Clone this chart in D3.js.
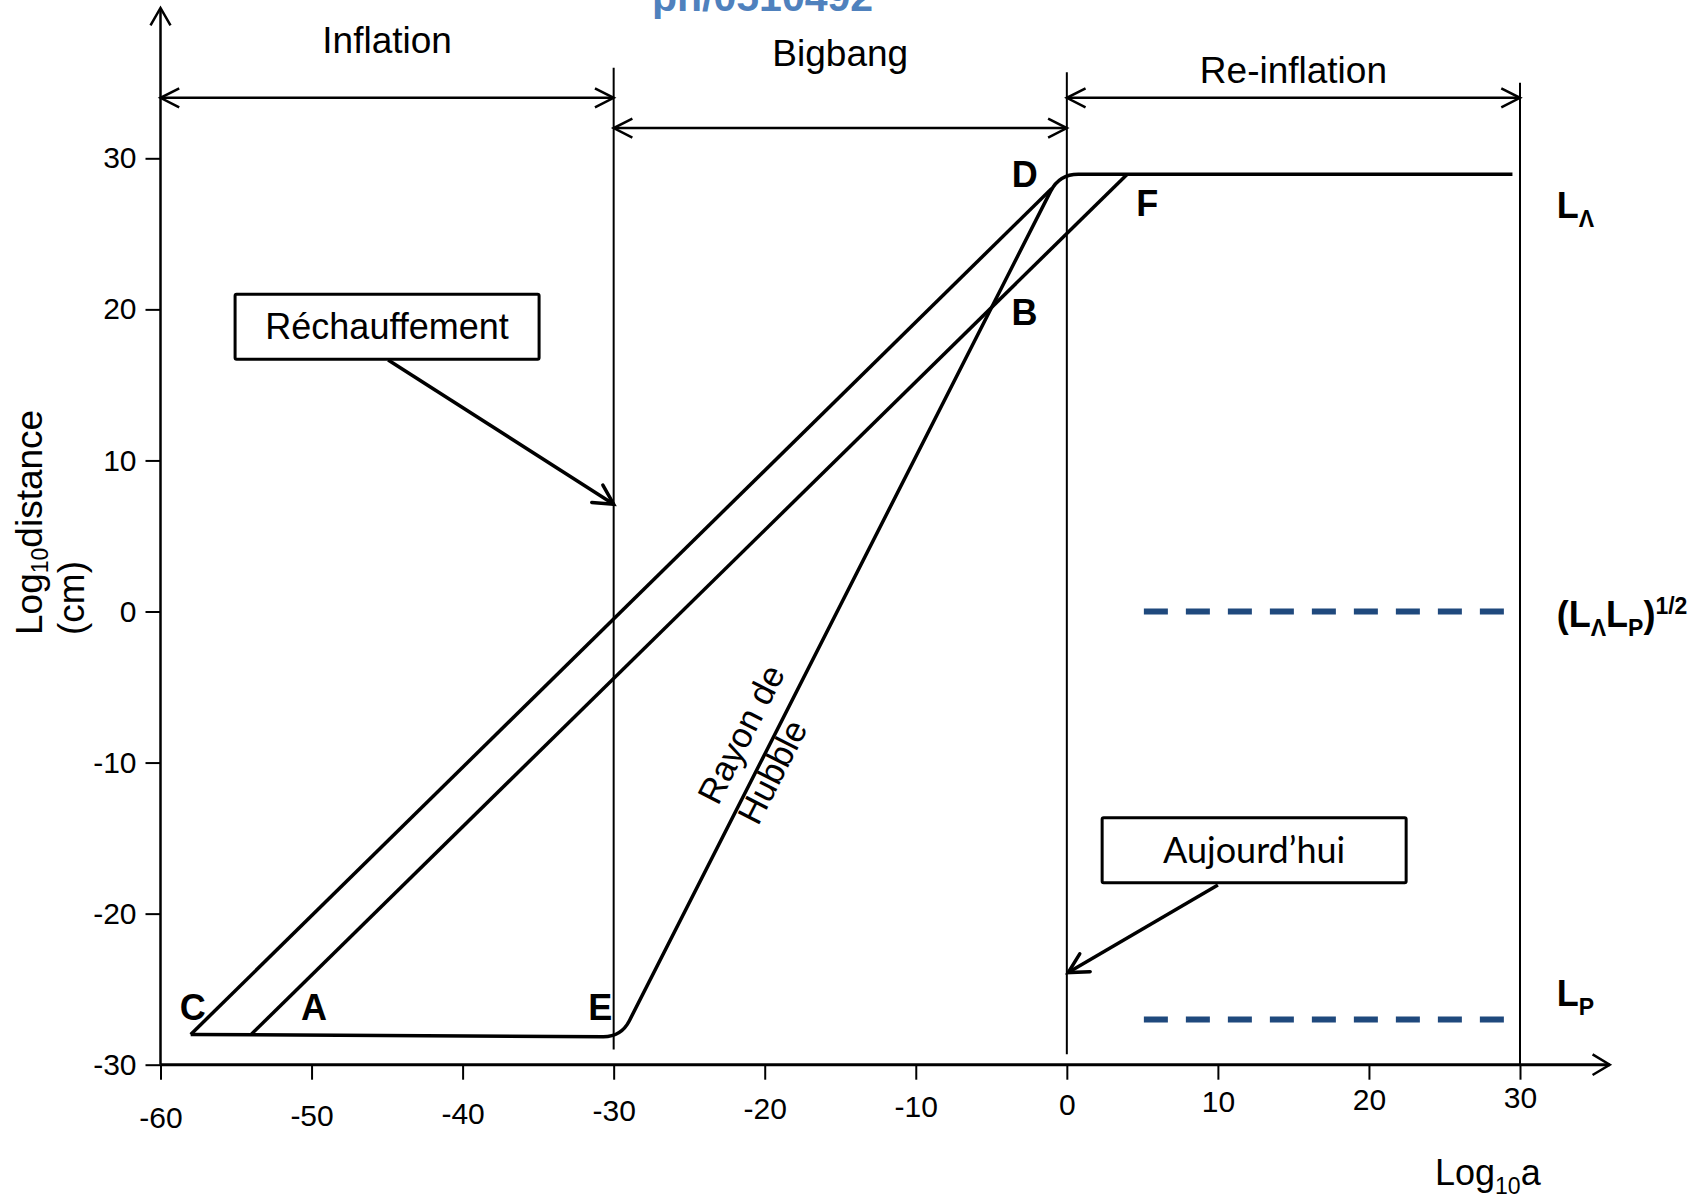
<!DOCTYPE html>
<html>
<head>
<meta charset="utf-8">
<script src="https://cdn.jsdelivr.net/npm/d3@7/dist/d3.min.js"></script>
<style>
  html, body { margin:0; padding:0; background:#ffffff; }
  svg { display:block; }
  text { font-family:"Liberation Sans", Arial, Helvetica, sans-serif; fill:#000; }
</style>
</head>
<body>
<script>
// ---------------- data ----------------
const xTicks = [-60, -50, -40, -30, -20, -10, 0, 10, 20, 30];
const yTicks = [-30, -20, -10, 0, 10, 20, 30];

const lineCD = [[-58, -28], [-1, 28]];
const lineAF = [[-54, -28], [4, 28.95]];
const hubblePath = [[-58, -28], [-29.5, -28.15], [-0.5, 28.95], [29.5, 28.95]];

const dashedLevels = [0, -27];
const dashedRange = [5.1, 29.0];

const boundaryX = [-30, 0, 30];
const boundaryTop = [36.0, 35.7, 35.0];
const boundaryBottom = [-29.0, -29.3, -30.0];

const phaseNames = ["Inflation", "Bigbang", "Re-inflation"];
const phaseFrom = [-60, -30, 0];
const phaseTo = [-30, 0, 30];
const phaseArrowY = [34.0, 32.0, 34.0];
const phaseLabelY = [37.0, 36.1, 35.0];

const pointNames = ["C", "A", "E", "D", "B", "F"];
const pointX = [-57.86, -49.83, -30.89, -2.78, -2.81, 5.33];
const pointY = [-27.04, -27.04, -27.04, 28.1, 18.97, 26.18];

const levelLabelParts = [
  [["L", "n"], ["Λ", "sub"]],
  [["(L", "n"], ["Λ", "sub"], ["L", "n"], ["P", "sub"], [")", "n"], ["1/2", "sup"]],
  [["L", "n"], ["P", "sub"]]
];
const levelLabelX = [32.43, 32.43, 32.43];
const levelLabelY = [26.05, -1.03, -26.1];

const annotTexts = ["Réchauffement", "Aujourd’hui"];
const annotCenter = [[-45.0, 18.85], [12.4, -15.8]];
const annotFrom = [[-44.93, 16.65], [10.0, -18.1]];
const annotTo = [[-30, 7.1], [0.09, -23.9]];

const hubbleTextLines = ["Rayon de", "Hubble"];
const hubbleTextAt = [-23.1, -12.9];

const titleText = "ph/0510492";

// ---------------- layout / scales ----------------
const W = 1700, H = 1198;
const x = d3.scaleLinear().domain([-60, 30]).range([160.5, 1520]);
const y = d3.scaleLinear().domain([-30, 30]).range([1064.7, 158.3]);

const svg = d3.select("body").append("svg").attr("width", W).attr("height", H);
svg.append("rect").attr("width", W).attr("height", H).attr("fill", "#fff");

function openHead(tip, from, len, halfDeg) {
  const dx = from[0] - tip[0], dy = from[1] - tip[1];
  const L = Math.hypot(dx, dy), ux = dx / L, uy = dy / L;
  const a = halfDeg * Math.PI / 180;
  const r = (c, s) => [tip[0] + len * (ux * c - uy * s), tip[1] + len * (ux * s + uy * c)];
  const p1 = r(Math.cos(a), Math.sin(a)), p2 = r(Math.cos(-a), Math.sin(-a));
  return `M${p1[0]},${p1[1]}L${tip[0]},${tip[1]}L${p2[0]},${p2[1]}`;
}

// title (cut off at the top edge, as in the source figure)
svg.append("text").attr("x", 652).attr("y", 11)
  .attr("font-size", 41).attr("font-weight", "bold").style("fill", "#4F81BD")
  .text(titleText);

// ---------------- axes ----------------
const fmt = d => String(d);
const gx = svg.append("g").attr("transform", `translate(0,${y(-30)})`)
  .call(d3.axisBottom(x).tickValues(xTicks).tickSize(15).tickSizeOuter(0).tickPadding(17)
    .tickFormat(fmt));
gx.select(".domain").remove();
gx.selectAll(".tick line").attr("stroke", "#000").attr("stroke-width", 2);
gx.selectAll(".tick text").attr("font-size", 30).attr("font-family", "Liberation Sans, Arial").style("fill", "#000")
  .attr("transform", d => `translate(0,${-0.23 * (d + 15)})`);

const gy = svg.append("g").attr("transform", `translate(${x(-60)},0)`)
  .call(d3.axisLeft(y).tickValues(yTicks).tickSize(15).tickSizeOuter(0).tickPadding(9)
    .tickFormat(fmt));
gy.select(".domain").remove();
gy.selectAll(".tick line").attr("stroke", "#000").attr("stroke-width", 2);
gy.selectAll(".tick text").attr("font-size", 30).attr("font-family", "Liberation Sans, Arial").style("fill", "#000");

// axis lines with arrows
const xTip = [x(35.94), y(-30)];
svg.append("line").attr("x1", x(-60)).attr("y1", y(-30)).attr("x2", xTip[0]).attr("y2", xTip[1])
  .attr("stroke", "#000").attr("stroke-width", 3);
svg.append("path").attr("d", openHead(xTip, [x(-60), y(-30)], 20, 31))
  .attr("fill", "none").attr("stroke", "#000").attr("stroke-width", 2.5);
const yTip = [x(-60), y(39.95)];
svg.append("line").attr("x1", x(-60)).attr("y1", y(-30)).attr("x2", yTip[0]).attr("y2", yTip[1])
  .attr("stroke", "#000").attr("stroke-width", 2.5);
svg.append("path").attr("d", openHead(yTip, [x(-60), y(-30)], 20, 30))
  .attr("fill", "none").attr("stroke", "#000").attr("stroke-width", 2.5);

// axis titles
const ylab = svg.append("text").attr("transform", `translate(42,635) rotate(-90)`)
  .attr("font-size", 37).attr("text-anchor", "start");
ylab.append("tspan").text("Log");
ylab.append("tspan").attr("font-size", 23).attr("dy", 6).text("10");
ylab.append("tspan").attr("dy", -6).text("distance");
svg.append("text").attr("transform", `translate(84,635) rotate(-90)`)
  .attr("font-size", 37).attr("text-anchor", "start").text("(cm)");

const xlab = svg.append("text").attr("x", 1435).attr("y", 1185).attr("font-size", 36);
xlab.append("tspan").text("Log");
xlab.append("tspan").attr("font-size", 23).attr("dy", 9).text("10");
xlab.append("tspan").attr("dy", -9).text("a");

// ---------------- boundaries & phase arrows ----------------
boundaryX.forEach((bx, i) => {
  svg.append("line").attr("x1", x(bx)).attr("x2", x(bx))
    .attr("y1", y(boundaryTop[i])).attr("y2", y(boundaryBottom[i]))
    .attr("stroke", "#000").attr("stroke-width", 2);
});

phaseNames.forEach((name, i) => {
  const a = [x(phaseFrom[i]), y(phaseArrowY[i])], b = [x(phaseTo[i]), y(phaseArrowY[i])];
  svg.append("line").attr("x1", a[0]).attr("y1", a[1]).attr("x2", b[0]).attr("y2", b[1])
    .attr("stroke", "#000").attr("stroke-width", 2.5);
  svg.append("path").attr("d", openHead(a, b, 21, 27) + openHead(b, a, 21, 27))
    .attr("fill", "none").attr("stroke", "#000").attr("stroke-width", 2.5);
  svg.append("text").attr("x", x((phaseFrom[i] + phaseTo[i]) / 2)).attr("y", y(phaseLabelY[i]))
    .attr("text-anchor", "middle").attr("font-size", 37).text(name);
});

// ---------------- dashed levels ----------------
dashedLevels.forEach(lv => {
  svg.append("line").attr("x1", x(dashedRange[0])).attr("x2", x(dashedRange[1]))
    .attr("y1", y(lv)).attr("y2", y(lv))
    .attr("stroke", "#1F497D").attr("stroke-width", 6).attr("stroke-dasharray", "24,18");
});

// ---------------- curves ----------------
const line = d3.line().x(d => x(d[0])).y(d => y(d[1]));
const cornerRadii = [0, 18, 19, 0];
function roundedPath(pts, radii) {
  const p = pts.map(d => [x(d[0]), y(d[1])]);
  const path = d3.path();
  path.moveTo(p[0][0], p[0][1]);
  for (let i = 1; i < p.length - 1; i++) {
    const [ax, ay] = p[i - 1], [px, py] = p[i], [bx, by] = p[i + 1];
    const l1 = Math.hypot(px - ax, py - ay), l2 = Math.hypot(bx - px, by - py);
    const r = radii[i];
    path.lineTo(px - (px - ax) / l1 * r, py - (py - ay) / l1 * r);
    path.quadraticCurveTo(px, py, px + (bx - px) / l2 * r, py + (by - py) / l2 * r);
  }
  path.lineTo(p[p.length - 1][0], p[p.length - 1][1]);
  return path.toString();
}
const curveStyle = sel => sel.attr("fill", "none").attr("stroke", "#000").attr("stroke-width", 3.5)
  .attr("stroke-linejoin", "round").attr("stroke-linecap", "butt");
svg.append("path").attr("d", roundedPath(hubblePath, cornerRadii)).call(curveStyle);
svg.append("path").attr("d", line(lineCD)).call(curveStyle);
svg.append("path").attr("d", line(lineAF)).call(curveStyle);

// Rayon de Hubble label, rotated along the Hubble line
const hp1 = [x(hubblePath[1][0]), y(hubblePath[1][1])], hp2 = [x(hubblePath[2][0]), y(hubblePath[2][1])];
const ang = Math.atan2(hp2[1] - hp1[1], hp2[0] - hp1[0]) * 180 / Math.PI;
const ht = svg.append("text")
  .attr("transform", `translate(${x(hubbleTextAt[0])},${y(hubbleTextAt[1])}) rotate(${ang})`)
  .attr("font-size", 35).attr("text-anchor", "start");
hubbleTextLines.forEach((t, i) => ht.append("tspan").attr("x", 0).attr("dy", i === 0 ? 0 : 45).text(t));

// ---------------- point labels ----------------
pointNames.forEach((n, i) => {
  svg.append("text").attr("x", x(pointX[i])).attr("y", y(pointY[i]))
    .attr("text-anchor", "middle").attr("font-size", 36).attr("font-weight", "bold").text(n);
});

// ---------------- level labels ----------------
levelLabelParts.forEach((parts, i) => {
  const t = svg.append("text").attr("x", x(levelLabelX[i])).attr("y", y(levelLabelY[i]))
    .attr("font-size", 36).attr("font-weight", "bold");
  let shift = 0;
  parts.forEach(([s, kind]) => {
    const target = kind === "sub" ? 9 : kind === "sup" ? -13 : 0;
    t.append("tspan").attr("dy", target - shift)
      .attr("font-size", kind === "n" ? 36 : 23).text(s);
    shift = target;
  });
});

// ---------------- annotation boxes ----------------
const boxW = 304, boxH = 65;
annotTexts.forEach((txt, i) => {
  const from = [x(annotFrom[i][0]), y(annotFrom[i][1])], to = [x(annotTo[i][0]), y(annotTo[i][1])];
  svg.append("line").attr("x1", from[0]).attr("y1", from[1]).attr("x2", to[0]).attr("y2", to[1])
    .attr("stroke", "#000").attr("stroke-width", 3.5);
  svg.append("path").attr("d", openHead(to, from, 22, 28))
    .attr("fill", "none").attr("stroke", "#000").attr("stroke-width", 3.5).attr("stroke-linecap", "round");
  const cx = x(annotCenter[i][0]), cy = y(annotCenter[i][1]);
  svg.append("rect").attr("x", cx - boxW / 2).attr("y", cy - boxH / 2)
    .attr("width", boxW).attr("height", boxH).attr("rx", 1.5)
    .attr("fill", "#fff").attr("stroke", "#000").attr("stroke-width", 3);
  svg.append("text").attr("x", cx).attr("y", cy + 12.5).attr("text-anchor", "middle")
    .attr("font-size", i === 0 ? 36 : 36)
    .style("font-family", i === 0 ? "'Liberation Sans', Arial" : "Lato, 'Open Sans', sans-serif")
    .text(txt);
});
</script>
</body>
</html>
